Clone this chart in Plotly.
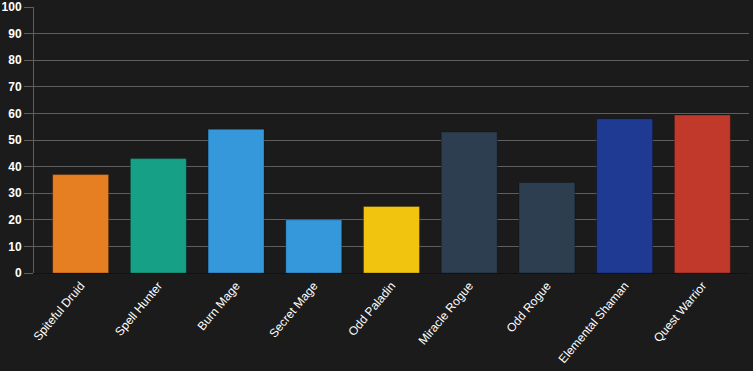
import plotly.graph_objects as go

categories = ["Spiteful Druid", "Spell Hunter", "Burn Mage", "Secret Mage", "Odd Paladin",
              "Miracle Rogue", "Odd Rogue", "Elemental Shaman", "Quest Warrior"]
values = [37, 43, 54, 20, 25, 53, 34, 58, 59.4]
colors = ["#e67e22", "#16a085", "#3498db", "#3498db", "#f1c40f",
          "#2c3e50", "#2c3e50", "#1f3a93", "#c0392b"]
y_ticks = list(range(0, 101, 10))

fig = go.Figure(go.Bar(
    x=categories, y=values,
    marker=dict(color=colors, line=dict(color="rgba(0,0,0,0.25)", width=1)),
    hoverinfo="x+y",
))

fig.update_layout(
    width=753, height=371,
    margin=dict(l=34, r=4, t=7, b=98),
    paper_bgcolor="#1b1b1b", plot_bgcolor="#1b1b1b",
    bargap=0.28,
    showlegend=False,
    font=dict(family="Liberation Sans, Arial, sans-serif", color="#ffffff", size=12),
)
fig.update_yaxes(
    range=[0, 100], tickvals=y_ticks, automargin=False,
    showgrid=True, gridcolor="#5e5e5e", gridwidth=1,
    showline=True, linecolor="#5e5e5e", linewidth=1,
    ticks="outside", ticklen=9, tickcolor="#5e5e5e",
    tickfont=dict(size=12, color="#ffffff", family="Liberation Sans, Arial, sans-serif", weight="bold"),
    zeroline=False,
)
fig.update_xaxes(
    tickangle=-50, automargin=False,
    range=[-0.6, 8.6],
    showline=True, linecolor="#111111", linewidth=1,
    tickfont=dict(size=12, color="#ffffff"),
    showgrid=False,
)

fig.write_html(
    "out.html",
    config={"displayModeBar": False},
    post_script="document.body.style.margin='0';document.body.style.background='#1b1b1b';document.body.style.overflow='hidden';",
)
